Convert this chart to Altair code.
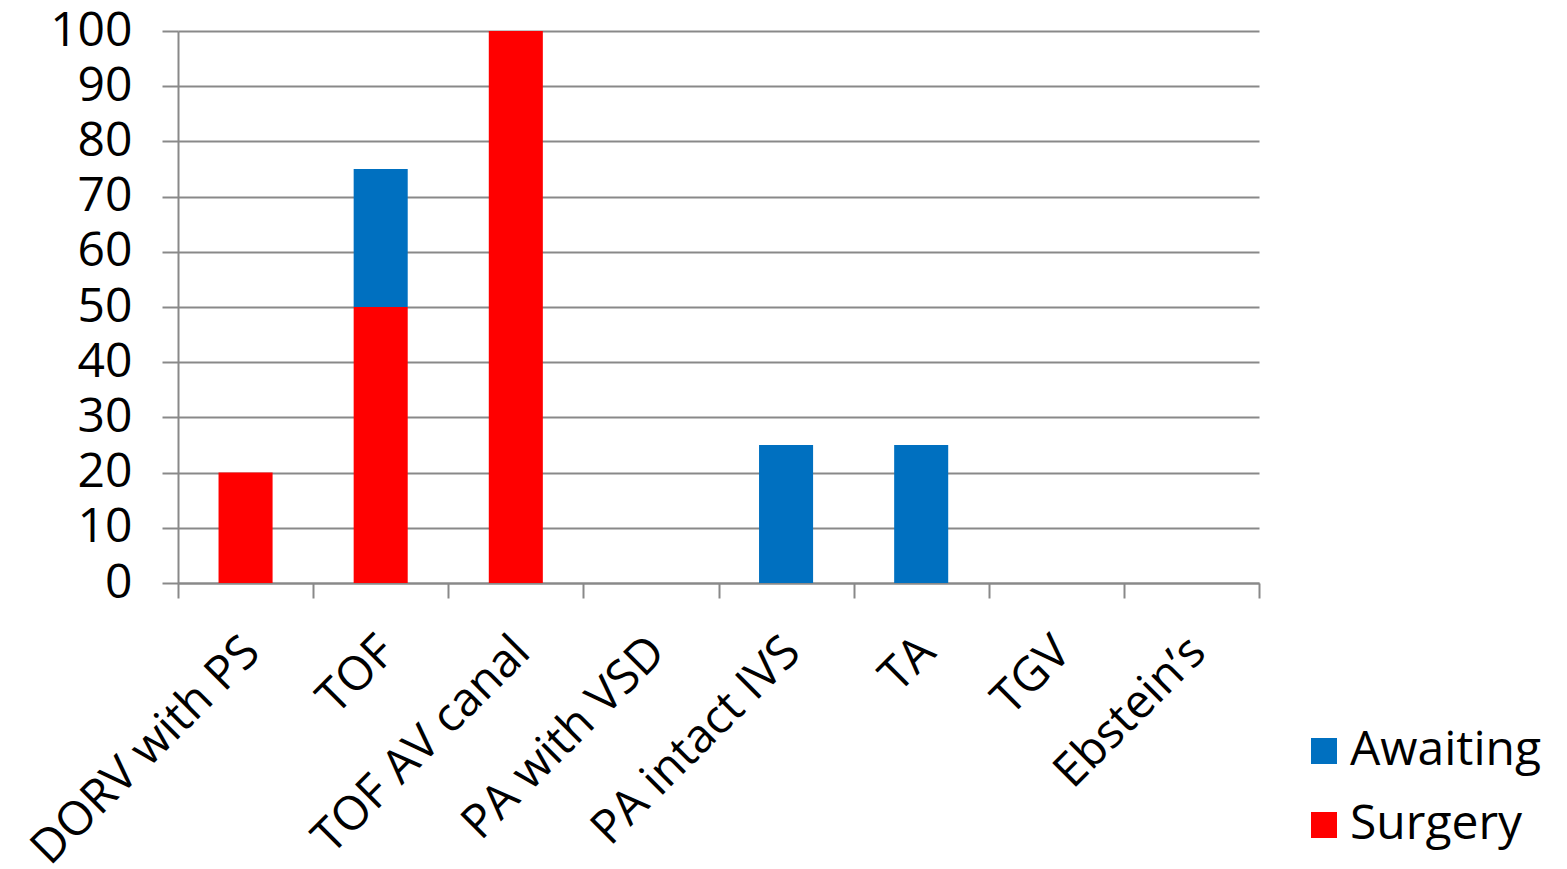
import altair as alt
import pandas as pd

# Diagnoses along the x axis
categories = ["DORV with PS", "TOF", "TOF AV canal", "PA with VSD",
              "PA intact IVS", "TA", "TGV", "Ebstein\u2019s"]
# Percentage per diagnosis for each outcome
surgery = [20, 50, 100, 0, 0, 0, 0, 0]
awaiting = [0, 25, 0, 0, 25, 25, 0, 0]

series_names = ["Awaiting", "Surgery"]
series_colors = ["#0070C0", "#FF0000"]
stack_rank = {"Surgery": 0, "Awaiting": 1}

rows = []
for cat, s, a in zip(categories, surgery, awaiting):
    rows.append({"diagnosis": cat, "status": "Surgery", "value": s})
    rows.append({"diagnosis": cat, "status": "Awaiting", "value": a})
df = pd.DataFrame(rows)
df["rank"] = df["status"].map(stack_rank)

FONT = "Open Sans"
GRID = "#898989"

chart = (
    alt.Chart(df)
    .mark_bar(width=alt.RelativeBandSize(0.4))
    .encode(
        x=alt.X(
            "diagnosis:N",
            sort=categories,
            scale=alt.Scale(paddingInner=0, paddingOuter=0),
            axis=alt.Axis(
                title=None,
                labelAngle=-45,
                labelAlign="right",
                labelBaseline="top",
                labelPadding=30,
                labelOffset=-10,
                labelFontSize=47,
                labelFont=FONT,
                labelColor="black",
                labelLimit=0,
                tickBand="extent",
                tickSize=15,
                tickColor=GRID,
                tickWidth=2,
                domainColor=GRID,
                domainWidth=2,
                grid=False,
                labelOverlap=False,
            ),
        ),
        y=alt.Y(
            "value:Q",
            stack="zero",
            scale=alt.Scale(domain=[0, 100], nice=False),
            axis=alt.Axis(
                title=None,
                values=list(range(0, 101, 10)),
                labelFontSize=48,
                labelFont=FONT,
                labelColor="black",
                labelLimit=0,
                labelPadding=30,
                labelOverlap=False,
                tickSize=16,
                tickColor=GRID,
                tickWidth=2,
                domainColor=GRID,
                domainWidth=2,
                grid=True,
                gridColor=GRID,
                gridWidth=2,
                gridOpacity=1,
            ),
        ),
        color=alt.Color(
            "status:N",
            scale=alt.Scale(domain=series_names, range=series_colors),
            legend=alt.Legend(
                title=None,
                orient="none",
                legendX=1122,
                legendY=696,
                symbolType="square",
                symbolSize=676,
                symbolStrokeWidth=0,
                labelFontSize=48,
                labelFont=FONT,
                labelColor="black",
                labelLimit=0,
                labelOffset=2,
                rowPadding=26,
                padding=0,
            ),
        ),
        order=alt.Order("rank:Q", sort="ascending"),
    )
    .properties(
        width=1081,
        height=552,
        autosize=alt.AutoSizeParams(type="none"),
        padding={"left": 178, "top": 31, "right": 308, "bottom": 286},
        background="white",
    )
    .configure_view(stroke=None)
)

chart.save("out.html", embed_options={"renderer": "svg", "actions": False})
